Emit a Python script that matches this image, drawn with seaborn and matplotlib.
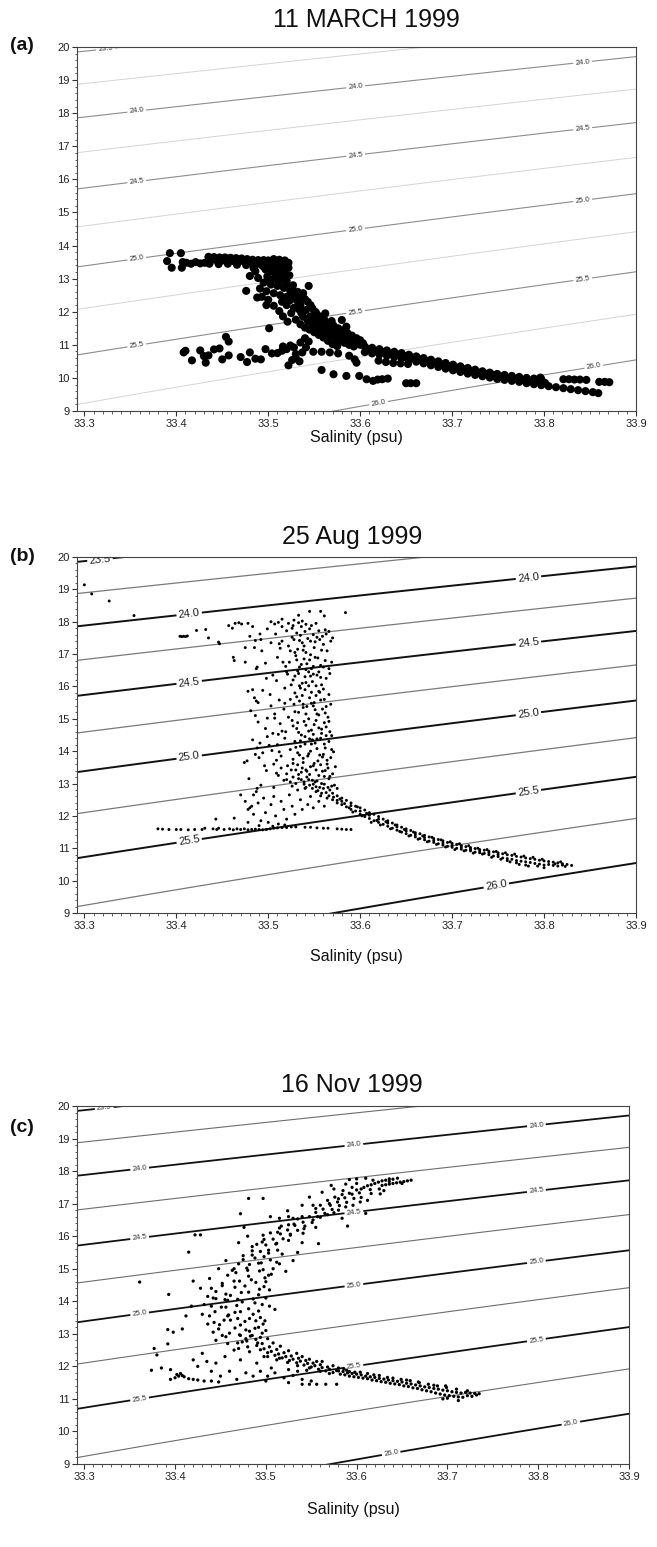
import numpy as np
import pandas as pd
import matplotlib
matplotlib.use("Agg")
import matplotlib.pyplot as plt
import seaborn as sns
from matplotlib.ticker import MultipleLocator, FormatStrFormatter

# ---------------------------------------------------------------- data
titles = ["11 MARCH 1999", "25 Aug 1999", "16 Nov 1999"]
panel_letters = ["(a)", "(b)", "(c)"]
x_ticks = [33.3, 33.4, 33.5, 33.6, 33.7, 33.8, 33.9]
y_ticks = [9, 10, 11, 12, 13, 14, 15, 16, 17, 18, 19, 20]
main_levels = [23.5, 24.0, 24.5, 25.0, 25.5, 26.0]
minor_levels = [23.75, 24.25, 24.75, 25.25, 25.75]

# ---- panel (a) 11 March 1999 : (salinity, temperature)
a_cluster = [(33.390, 13.53), (33.393, 13.77), (33.395, 13.33), (33.405, 13.77), (33.407, 13.50),
             (33.406, 13.33), (33.411, 13.48), (33.416, 13.45), (33.421, 13.50), (33.426, 13.46),
             (33.431, 13.48)]
a_plateau = [(33.435, 13.66), (33.441, 13.65), (33.447, 13.64), (33.453, 13.64), (33.459, 13.63),
             (33.465, 13.62), (33.471, 13.61), (33.477, 13.59), (33.483, 13.57), (33.489, 13.56),
             (33.495, 13.56), (33.438, 13.56), (33.444, 13.55), (33.450, 13.55), (33.456, 13.54),
             (33.462, 13.53), (33.468, 13.52), (33.474, 13.51), (33.480, 13.49), (33.486, 13.48),
             (33.492, 13.47), (33.436, 13.45), (33.446, 13.44), (33.456, 13.45), (33.466, 13.42),
             (33.476, 13.41), (33.486, 13.40), (33.494, 13.38)]
a_cliff = [(33.500, 13.55), (33.506, 13.59), (33.512, 13.57), (33.518, 13.55), (33.522, 13.48),
           (33.502, 13.42), (33.509, 13.44), (33.516, 13.40), (33.522, 13.33), (33.497, 13.28),
           (33.504, 13.22), (33.511, 13.26), (33.518, 13.18), (33.523, 13.10), (33.499, 13.07),
           (33.507, 13.02), (33.514, 13.00), (33.520, 12.93), (33.495, 12.88), (33.503, 12.82),
           (33.510, 12.78), (33.517, 12.72), (33.489, 13.02), (33.486, 13.22), (33.484, 13.32),
           (33.480, 13.08), (33.491, 12.70), (33.498, 12.62), (33.506, 12.56), (33.513, 12.50),
           (33.520, 12.45), (33.493, 12.45), (33.500, 12.36), (33.506, 12.18), (33.498, 12.20),
           (33.476, 12.63), (33.488, 12.43), (33.524, 12.62), (33.527, 12.80)]
a_diag = [(33.528, 12.50), (33.532, 12.32), (33.528, 12.12), (33.535, 12.20), (33.536, 11.96),
          (33.540, 12.38), (33.541, 12.05), (33.544, 12.78), (33.546, 11.86), (33.546, 12.20),
          (33.551, 11.72), (33.551, 12.00), (33.552, 11.97), (33.556, 11.62), (33.556, 11.86),
          (33.561, 11.55), (33.561, 11.76), (33.566, 11.46), (33.566, 11.66), (33.569, 11.72),
          (33.571, 11.40), (33.571, 11.58), (33.576, 11.32), (33.576, 11.50), (33.581, 11.25),
          (33.581, 11.44), (33.586, 11.20), (33.586, 11.36), (33.591, 11.12), (33.591, 11.28),
          (33.596, 11.06), (33.596, 11.20), (33.600, 11.00), (33.600, 11.14), (33.520, 12.20),
          (33.525, 11.96), (33.530, 11.76), (33.535, 11.62), (33.540, 11.52), (33.545, 11.46),
          (33.550, 11.38), (33.555, 11.30), (33.560, 11.22), (33.565, 11.12), (33.570, 11.02),
          (33.575, 10.96), (33.512, 12.02), (33.516, 11.86), (33.521, 11.70), (33.515, 12.30),
          (33.538, 12.56), (33.571, 11.52)]
a_fill = [(33.505, 13.35), (33.513, 13.35), (33.509, 13.12), (33.516, 13.10), (33.502, 12.95),
          (33.511, 12.88), (33.519, 12.82), (33.526, 12.70), (33.532, 12.60), (33.536, 12.45),
          (33.530, 12.45), (33.524, 12.35), (33.533, 12.08), (33.538, 11.85), (33.543, 11.72),
          (33.548, 11.60), (33.553, 11.52), (33.558, 11.42), (33.563, 11.35), (33.568, 11.28),
          (33.573, 11.20), (33.578, 11.12), (33.583, 11.06), (33.588, 11.00), (33.593, 10.95),
          (33.543, 12.30), (33.548, 12.10), (33.553, 11.80), (33.558, 11.70), (33.563, 11.62),
          (33.568, 11.50), (33.573, 11.42), (33.578, 11.36), (33.583, 11.30), (33.588, 11.25),
          (33.593, 11.16), (33.598, 11.10), (33.603, 11.05), (33.580, 11.75), (33.562, 11.95),
          (33.585, 11.55)]
a_tail = [(33.605, 10.95), (33.613, 10.91), (33.621, 10.87), (33.629, 10.83), (33.637, 10.79),
          (33.645, 10.75), (33.653, 10.70), (33.661, 10.65), (33.669, 10.60), (33.677, 10.55),
          (33.685, 10.50), (33.693, 10.45), (33.701, 10.40), (33.709, 10.35), (33.717, 10.30),
          (33.725, 10.25), (33.733, 10.20), (33.741, 10.16), (33.749, 10.12), (33.757, 10.09),
          (33.765, 10.06), (33.773, 10.03), (33.781, 10.00), (33.789, 9.98), (33.797, 9.96),
          (33.609, 10.86), (33.617, 10.82), (33.625, 10.78), (33.633, 10.74), (33.641, 10.70),
          (33.649, 10.66), (33.657, 10.61), (33.665, 10.56), (33.673, 10.51), (33.681, 10.46),
          (33.689, 10.41), (33.697, 10.36), (33.705, 10.31), (33.713, 10.26), (33.721, 10.21),
          (33.729, 10.16), (33.737, 10.12), (33.745, 10.08), (33.753, 10.04), (33.761, 10.00),
          (33.769, 9.97), (33.777, 9.94), (33.785, 9.91), (33.793, 9.88), (33.801, 9.85),
          (33.605, 10.78), (33.613, 10.74), (33.621, 10.71), (33.629, 10.67), (33.637, 10.63),
          (33.645, 10.59), (33.653, 10.54), (33.661, 10.49), (33.669, 10.44), (33.677, 10.38),
          (33.685, 10.33), (33.693, 10.28), (33.701, 10.23), (33.709, 10.18), (33.717, 10.13),
          (33.725, 10.09), (33.733, 10.05), (33.741, 10.01), (33.749, 9.97), (33.757, 9.94),
          (33.765, 9.91), (33.773, 9.88), (33.781, 9.84), (33.789, 9.81), (33.797, 9.78),
          (33.805, 9.75), (33.813, 9.72), (33.821, 9.69), (33.829, 9.66), (33.837, 9.63),
          (33.845, 9.60), (33.853, 9.57), (33.859, 9.54), (33.620, 10.52), (33.628, 10.48),
          (33.636, 10.45), (33.644, 10.44), (33.652, 10.42)]
a_right = [(33.796, 10.01), (33.821, 9.96), (33.827, 9.96), (33.833, 9.95), (33.839, 9.95),
           (33.846, 9.94), (33.860, 9.88), (33.866, 9.88), (33.871, 9.87)]
a_lower = [(33.408, 10.77), (33.410, 10.82), (33.417, 10.53), (33.426, 10.83), (33.430, 10.66),
           (33.432, 10.46), (33.435, 10.68), (33.441, 10.86), (33.447, 10.89), (33.450, 10.56),
           (33.454, 11.24), (33.457, 11.10), (33.457, 10.68), (33.470, 10.63), (33.477, 10.48),
           (33.480, 10.77), (33.486, 10.58), (33.492, 10.56), (33.497, 10.87), (33.501, 11.50),
           (33.504, 10.74), (33.510, 10.75), (33.515, 10.82), (33.520, 10.87), (33.522, 10.38),
           (33.526, 10.54), (33.528, 10.92), (33.530, 10.72), (33.535, 11.07), (33.537, 10.77),
           (33.540, 11.20), (33.544, 11.10), (33.549, 10.79), (33.558, 10.79), (33.567, 10.77),
           (33.576, 10.74), (33.588, 10.67), (33.594, 10.56), (33.596, 10.46), (33.530, 10.60),
           (33.534, 10.50), (33.524, 10.98), (33.516, 10.95), (33.541, 10.92)]
a_bottom = [(33.558, 10.24), (33.571, 10.11), (33.585, 10.06), (33.599, 10.06), (33.607, 9.96),
            (33.614, 9.91), (33.619, 9.95), (33.624, 9.96), (33.630, 9.98), (33.650, 9.84),
            (33.655, 9.84), (33.661, 9.84)]

# ---- panel (b) 25 Aug 1999
b_sparse = [(33.300, 19.14), (33.308, 18.86), (33.327, 18.64), (33.354, 18.19), (33.404, 17.55),
            (33.406, 17.54), (33.408, 17.55), (33.410, 17.54), (33.412, 17.56), (33.422, 17.73),
            (33.432, 17.76), (33.435, 17.50), (33.446, 17.37), (33.447, 17.32), (33.457, 17.88),
            (33.461, 17.80), (33.464, 17.95), (33.468, 17.97), (33.471, 17.93), (33.462, 16.90),
            (33.463, 16.80), (33.533, 18.20), (33.545, 18.32), (33.557, 18.32), (33.561, 18.18),
            (33.584, 18.28), (33.478, 17.95), (33.483, 17.85), (33.480, 17.55), (33.475, 17.20),
            (33.488, 16.60), (33.483, 15.90), (33.477, 13.70)]
b_column = [(33.503, 18.00), (33.507, 17.93), (33.511, 17.98), (33.528, 18.05), (33.533, 17.97),
            (33.537, 18.02), (33.541, 17.92), (33.552, 17.95), (33.562, 17.75), (33.566, 17.70),
            (33.486, 17.42), (33.491, 17.62), (33.515, 17.85), (33.520, 17.72), (33.526, 17.80),
            (33.531, 17.65), (33.536, 17.85), (33.540, 17.70), (33.545, 17.78), (33.549, 17.60),
            (33.555, 17.72), (33.559, 17.55), (33.563, 17.62), (33.570, 17.50), (33.485, 17.20),
            (33.503, 17.35), (33.515, 17.40), (33.522, 17.25), (33.528, 17.45), (33.532, 17.15),
            (33.537, 17.35), (33.541, 17.05), (33.546, 17.40), (33.550, 17.20), (33.556, 17.45),
            (33.560, 17.30), (33.564, 17.10), (33.568, 17.40), (33.493, 17.10), (33.475, 16.75),
            (33.487, 16.55), (33.510, 16.90), (33.523, 16.75), (33.530, 16.95), (33.534, 16.60),
            (33.539, 16.85), (33.542, 16.70), (33.547, 16.55), (33.551, 16.90), (33.557, 16.65),
            (33.562, 16.80), (33.569, 16.75), (33.566, 16.55), (33.498, 16.25), (33.505, 16.35),
            (33.520, 16.45), (33.527, 16.20), (33.533, 16.40), (33.537, 16.10), (33.540, 16.30),
            (33.544, 16.45), (33.548, 16.15), (33.553, 16.35), (33.558, 16.05), (33.563, 16.25),
            (33.567, 16.40), (33.478, 15.85), (33.485, 15.65), (33.487, 15.55), (33.489, 15.50),
            (33.502, 15.75), (33.518, 15.95), (33.524, 15.60), (33.529, 15.80), (33.534, 15.55),
            (33.540, 15.90), (33.545, 15.65), (33.550, 15.50), (33.555, 15.85), (33.561, 15.60),
            (33.566, 15.75), (33.481, 15.25), (33.486, 15.10), (33.503, 15.40), (33.507, 15.15),
            (33.517, 15.30), (33.522, 15.05), (33.528, 15.45), (33.533, 15.20), (33.538, 15.35),
            (33.544, 15.00), (33.549, 15.40), (33.553, 15.15), (33.559, 15.30), (33.565, 15.05),
            (33.568, 15.45), (33.489, 14.90), (33.497, 14.70), (33.505, 14.55), (33.513, 14.85),
            (33.519, 14.60), (33.526, 14.95), (33.531, 14.70), (33.536, 14.50), (33.541, 14.80),
            (33.547, 14.65), (33.552, 14.95), (33.558, 14.55), (33.563, 14.75), (33.567, 14.60),
            (33.483, 14.35), (33.488, 14.10), (33.491, 14.25), (33.499, 14.45), (33.510, 14.20),
            (33.518, 14.40), (33.524, 14.05), (33.529, 14.30), (33.535, 14.15), (33.540, 14.45),
            (33.546, 14.00), (33.551, 14.25), (33.557, 14.40), (33.562, 14.10), (33.566, 14.30),
            (33.569, 14.05), (33.474, 13.65), (33.486, 13.90), (33.490, 13.80), (33.494, 13.95),
            (33.506, 13.60), (33.514, 13.85), (33.521, 13.55), (33.527, 13.75), (33.532, 13.95),
            (33.538, 13.65), (33.543, 13.85), (33.549, 13.55), (33.554, 13.70), (33.560, 13.90),
            (33.564, 13.60), (33.568, 13.80), (33.479, 13.15), (33.498, 13.40), (33.511, 13.25),
            (33.517, 13.10), (33.520, 13.30), (33.524, 13.05), (33.527, 13.20), (33.530, 13.00),
            (33.533, 13.15), (33.536, 13.35), (33.539, 13.05), (33.542, 13.20), (33.545, 12.95),
            (33.548, 13.10), (33.552, 12.90), (33.555, 13.25), (33.558, 13.00), (33.562, 13.40),
            (33.566, 13.15), (33.570, 13.30)]
b_column2 = [(33.508, 17.62), (33.513, 17.18), (33.519, 16.62), (33.525, 16.05), (33.529, 15.22),
             (33.532, 14.88), (33.535, 14.32), (33.538, 13.78), (33.541, 13.42), (33.544, 13.12),
             (33.526, 17.52), (33.529, 17.05), (33.532, 16.48), (33.535, 15.95), (33.538, 15.45),
             (33.541, 15.15), (33.544, 14.62), (33.547, 14.22), (33.550, 13.62), (33.553, 13.08),
             (33.535, 17.58), (33.538, 17.12), (33.541, 16.52), (33.544, 16.02), (33.547, 15.48),
             (33.550, 14.82), (33.553, 14.38), (33.556, 13.88), (33.559, 13.38), (33.561, 12.98),
             (33.543, 17.48), (33.546, 16.98), (33.549, 16.38), (33.552, 15.72), (33.555, 15.12),
             (33.558, 14.68), (33.561, 14.22), (33.564, 13.72), (33.567, 13.22), (33.569, 12.92),
             (33.551, 17.38), (33.554, 16.88), (33.557, 16.28), (33.560, 15.92), (33.563, 15.38),
             (33.566, 14.92), (33.569, 14.48), (33.571, 13.98), (33.573, 13.52), (33.524, 17.10),
             (33.521, 16.38), (33.518, 15.48), (33.515, 14.62), (33.512, 13.98), (33.509, 13.32),
             (33.506, 12.88), (33.497, 16.72), (33.494, 15.88), (33.499, 15.02), (33.501, 14.18),
             (33.496, 13.55), (33.492, 12.95), (33.488, 12.85), (33.484, 12.65), (33.492, 17.45),
             (33.499, 17.78), (33.515, 18.08), (33.522, 17.95), (33.527, 13.62), (33.530, 13.42),
             (33.533, 13.28), (33.536, 13.12), (33.539, 12.98), (33.542, 13.38), (33.545, 13.28),
             (33.548, 12.85), (33.551, 13.05), (33.554, 12.78), (33.557, 12.62), (33.560, 12.85),
             (33.563, 12.72), (33.566, 12.62)]
b_column3 = [(33.527, 17.88), (33.534, 17.42), (33.539, 17.25), (33.547, 17.88), (33.553, 17.52),
             (33.558, 17.12), (33.531, 16.82), (33.536, 16.68), (33.545, 16.82), (33.549, 16.62),
             (33.555, 16.45), (33.560, 16.60), (33.529, 16.32), (33.534, 16.02), (33.541, 16.12),
             (33.546, 16.32), (33.552, 16.02), (33.556, 15.82), (33.531, 15.68), (33.537, 15.72),
             (33.542, 15.38), (33.547, 15.82), (33.551, 15.28), (33.557, 15.58), (33.562, 15.18),
             (33.527, 14.78), (33.533, 14.58), (33.539, 14.92), (33.545, 14.38), (33.549, 14.52),
             (33.555, 14.72), (33.561, 14.88), (33.530, 14.12), (33.534, 13.88), (33.540, 14.22),
             (33.544, 13.92), (33.548, 14.35), (33.553, 14.08), (33.559, 13.82), (33.563, 14.48),
             (33.525, 13.42), (33.532, 13.58), (33.537, 13.48), (33.546, 13.52), (33.552, 13.42),
             (33.557, 13.58), (33.561, 13.22), (33.565, 13.48), (33.541, 12.88), (33.549, 12.98),
             (33.556, 12.88), (33.526, 12.92), (33.520, 13.12), (33.514, 13.48), (33.509, 13.72),
             (33.504, 14.02), (33.511, 14.52), (33.507, 15.02), (33.512, 15.58), (33.509, 16.18),
             (33.516, 16.75), (33.512, 17.32)]
b_lower = [(33.470, 12.65), (33.475, 12.45), (33.478, 12.20), (33.480, 12.25), (33.482, 12.30),
           (33.484, 12.05), (33.487, 12.75), (33.489, 12.40), (33.492, 11.85), (33.495, 12.55),
           (33.497, 12.10), (33.500, 11.80), (33.503, 12.35), (33.506, 12.60), (33.508, 12.00),
           (33.511, 11.75), (33.514, 12.45), (33.517, 12.20), (33.520, 11.90), (33.523, 12.65),
           (33.526, 12.30), (33.529, 12.05), (33.532, 12.80), (33.535, 12.50), (33.537, 12.20),
           (33.540, 12.85), (33.543, 12.35), (33.546, 12.60), (33.549, 12.25), (33.552, 12.75),
           (33.555, 12.45), (33.558, 12.70), (33.561, 12.30), (33.564, 12.55), (33.567, 12.80),
           (33.463, 11.93), (33.478, 11.80), (33.490, 11.70), (33.505, 11.68), (33.518, 11.72),
           (33.443, 11.90)]
b_line = [(33.380, 11.60), (33.385, 11.59), (33.392, 11.58), (33.400, 11.58), (33.405, 11.58),
          (33.413, 11.57), (33.420, 11.58), (33.428, 11.58), (33.431, 11.62), (33.440, 11.60),
          (33.444, 11.58), (33.446, 11.62), (33.452, 11.58), (33.458, 11.60), (33.462, 11.57),
          (33.466, 11.60), (33.470, 11.58), (33.474, 11.60), (33.478, 11.57), (33.482, 11.58),
          (33.486, 11.59), (33.490, 11.58), (33.494, 11.57), (33.498, 11.58), (33.502, 11.60),
          (33.506, 11.62), (33.510, 11.63), (33.515, 11.64), (33.520, 11.64), (33.525, 11.66),
          (33.530, 11.66), (33.540, 11.65), (33.546, 11.65), (33.553, 11.63), (33.560, 11.62),
          (33.565, 11.62), (33.575, 11.60), (33.580, 11.59), (33.585, 11.58), (33.590, 11.58)]
b_tail = [(33.570, 12.70), (33.570, 12.50), (33.575, 12.62), (33.575, 12.40), (33.580, 12.55),
          (33.580, 12.35), (33.580, 12.45), (33.585, 12.48), (33.585, 12.28), (33.590, 12.40),
          (33.590, 12.20), (33.590, 12.32), (33.595, 12.30), (33.595, 12.15), (33.600, 12.25),
          (33.600, 12.05), (33.600, 12.15), (33.605, 12.18), (33.605, 11.98), (33.610, 12.10),
          (33.610, 11.92), (33.610, 12.02), (33.615, 12.05), (33.615, 11.85), (33.620, 11.98),
          (33.620, 11.80), (33.620, 11.90), (33.625, 11.90), (33.625, 11.74), (33.630, 11.85),
          (33.630, 11.68), (33.630, 11.78), (33.635, 11.78), (33.635, 11.62), (33.640, 11.72),
          (33.640, 11.56), (33.640, 11.66), (33.645, 11.65), (33.645, 11.50), (33.650, 11.60),
          (33.650, 11.45), (33.650, 11.53), (33.655, 11.55), (33.655, 11.40), (33.660, 11.48),
          (33.660, 11.35), (33.660, 11.42), (33.665, 11.45), (33.665, 11.30), (33.670, 11.40),
          (33.670, 11.26), (33.670, 11.33), (33.675, 11.35), (33.675, 11.22), (33.680, 11.30),
          (33.680, 11.18), (33.680, 11.24), (33.685, 11.27), (33.685, 11.14), (33.690, 11.23),
          (33.690, 11.10), (33.690, 11.16), (33.695, 11.18), (33.695, 11.06), (33.700, 11.15),
          (33.700, 11.03), (33.700, 11.09), (33.705, 11.12), (33.705, 11.00), (33.710, 11.08),
          (33.710, 10.97), (33.710, 11.03), (33.715, 11.05), (33.715, 10.94), (33.720, 11.02),
          (33.720, 10.92), (33.720, 10.97), (33.725, 10.99), (33.725, 10.88), (33.730, 10.96),
          (33.730, 10.86), (33.730, 10.91), (33.735, 10.94), (33.735, 10.84), (33.740, 10.91),
          (33.740, 10.80), (33.740, 10.86), (33.745, 10.89), (33.745, 10.76), (33.750, 10.86),
          (33.750, 10.74), (33.750, 10.80), (33.755, 10.83), (33.755, 10.70), (33.760, 10.80),
          (33.760, 10.68), (33.760, 10.62), (33.765, 10.78), (33.765, 10.66), (33.770, 10.75),
          (33.770, 10.62), (33.770, 10.55), (33.775, 10.73), (33.775, 10.60), (33.780, 10.70),
          (33.780, 10.58), (33.780, 10.48), (33.785, 10.68), (33.785, 10.56), (33.790, 10.66),
          (33.790, 10.53), (33.795, 10.63), (33.795, 10.51), (33.800, 10.61), (33.800, 10.48),
          (33.800, 10.40), (33.805, 10.59), (33.805, 10.50), (33.810, 10.57), (33.810, 10.47),
          (33.815, 10.55), (33.815, 10.45), (33.820, 10.52), (33.820, 10.48), (33.825, 10.50),
          (33.830, 10.47), (33.575, 12.85), (33.565, 12.88), (33.572, 12.95)]
b_tail2 = [(33.571, 12.58), (33.575, 12.48), (33.578, 12.52), (33.583, 12.38), (33.588, 12.25),
           (33.592, 12.12), (33.597, 12.28), (33.602, 12.00), (33.607, 12.08), (33.612, 11.80),
           (33.618, 11.86), (33.622, 11.72), (33.628, 11.82), (33.633, 11.60), (33.638, 11.72),
           (33.643, 11.52), (33.648, 11.58), (33.653, 11.38), (33.658, 11.50), (33.663, 11.28),
           (33.668, 11.38), (33.673, 11.20), (33.678, 11.34), (33.683, 11.12), (33.688, 11.26),
           (33.693, 11.04), (33.698, 11.20), (33.703, 10.96), (33.708, 11.14), (33.713, 10.92),
           (33.718, 11.08), (33.723, 10.85), (33.728, 11.00), (33.733, 10.82), (33.738, 10.96),
           (33.743, 10.72), (33.748, 10.90), (33.753, 10.66), (33.758, 10.86), (33.763, 10.58),
           (33.768, 10.82), (33.773, 10.50), (33.778, 10.76), (33.783, 10.45), (33.788, 10.72),
           (33.793, 10.45), (33.798, 10.66), (33.812, 10.52), (33.818, 10.58), (33.823, 10.44)]

# ---- panel (c) 16 Nov 1999
c_top = [(33.660, 17.72), (33.656, 17.70), (33.652, 17.68), (33.648, 17.66), (33.644, 17.64),
         (33.640, 17.62), (33.636, 17.60), (33.632, 17.58), (33.628, 17.56), (33.645, 17.78),
         (33.640, 17.75), (33.636, 17.76), (33.632, 17.72), (33.628, 17.70), (33.624, 17.66),
         (33.620, 17.62), (33.616, 17.58), (33.612, 17.55), (33.608, 17.50), (33.625, 17.45),
         (33.615, 17.43), (33.616, 17.31), (33.603, 17.33), (33.605, 17.19), (33.595, 17.29),
         (33.597, 17.16), (33.587, 17.18), (33.589, 17.04), (33.579, 17.05), (33.581, 16.94),
         (33.571, 16.95), (33.573, 16.82), (33.563, 16.83), (33.565, 16.70), (33.555, 16.73),
         (33.557, 16.60), (33.612, 17.10), (33.604, 17.05), (33.596, 16.95), (33.588, 16.90),
         (33.580, 16.80), (33.575, 16.72), (33.568, 16.66), (33.560, 16.58), (33.552, 16.50),
         (33.600, 17.42), (33.592, 17.32), (33.584, 17.28), (33.576, 17.20), (33.568, 17.10),
         (33.630, 17.40), (33.626, 17.30), (33.572, 17.56), (33.592, 17.74), (33.600, 17.76),
         (33.610, 17.78), (33.584, 16.55), (33.590, 16.31), (33.610, 16.70)]
c_mid = [(33.551, 16.42), (33.541, 16.43), (33.543, 16.31), (33.532, 16.33), (33.535, 16.18),
         (33.524, 16.19), (33.527, 16.06), (33.516, 16.07), (33.519, 15.92), (33.508, 15.91),
         (33.511, 15.76), (33.500, 15.73), (33.503, 15.57), (33.494, 15.53), (33.498, 15.37),
         (33.488, 15.33), (33.492, 15.17), (33.482, 15.13), (33.555, 16.27), (33.542, 16.23),
         (33.541, 16.09), (33.527, 16.03), (33.525, 15.87), (33.512, 15.78), (33.513, 15.57),
         (33.503, 15.48), (33.505, 15.27), (33.495, 15.18), (33.497, 14.97), (33.535, 16.53),
         (33.531, 16.37), (33.517, 16.31), (33.513, 16.12), (33.497, 16.03), (33.496, 15.82),
         (33.485, 15.68), (33.485, 15.42), (33.475, 15.28), (33.479, 15.02), (33.558, 15.77),
         (33.522, 14.92), (33.535, 15.50), (33.540, 15.80), (33.530, 15.25), (33.476, 16.27),
         (33.472, 16.69), (33.481, 17.16), (33.497, 17.16), (33.524, 16.78), (33.515, 16.55),
         (33.505, 16.60), (33.480, 16.00), (33.470, 15.80)]
c_cloud = [(33.493, 14.93), (33.481, 14.77), (33.484, 14.66), (33.471, 14.62), (33.477, 14.47),
           (33.466, 14.43), (33.473, 14.27), (33.461, 14.18), (33.469, 14.06), (33.458, 14.03),
           (33.468, 13.87), (33.456, 13.82), (33.466, 13.66), (33.459, 13.58), (33.469, 13.47),
           (33.461, 13.42), (33.472, 13.27), (33.466, 13.18), (33.478, 13.12), (33.471, 12.97),
           (33.483, 12.93), (33.479, 12.78), (33.491, 12.72), (33.499, 14.72), (33.489, 14.58),
           (33.493, 14.37), (33.481, 14.28), (33.486, 14.07), (33.474, 13.98), (33.481, 13.77),
           (33.472, 13.68), (33.482, 13.47), (33.477, 13.38), (33.488, 13.17), (33.482, 13.08),
           (33.494, 12.89), (33.489, 12.83), (33.467, 14.88), (33.465, 14.62), (33.452, 14.48),
           (33.456, 14.22), (33.445, 14.08), (33.451, 13.82), (33.444, 13.68), (33.454, 13.42),
           (33.449, 13.28), (33.460, 13.02), (33.456, 12.91), (33.469, 12.72), (33.500, 14.60),
           (33.504, 14.35), (33.500, 14.10), (33.496, 13.90), (33.492, 13.70), (33.494, 13.50),
           (33.497, 13.30), (33.500, 13.10), (33.485, 12.95), (33.478, 12.85), (33.472, 12.95),
           (33.440, 14.40), (33.436, 14.15), (33.432, 13.90), (33.430, 13.60), (33.436, 13.30),
           (33.442, 13.05), (33.445, 12.80), (33.438, 14.70), (33.448, 15.00), (33.456, 15.25),
           (33.463, 14.95), (33.506, 14.83), (33.504, 13.85), (33.499, 13.40), (33.510, 13.75),
           (33.393, 14.21), (33.361, 14.59), (33.415, 15.51), (33.422, 16.04), (33.428, 16.04),
           (33.420, 14.62), (33.428, 14.40), (33.418, 13.85), (33.412, 13.55), (33.408, 13.15)]
c_extra = [(33.600, 17.62), (33.605, 17.45), (33.595, 17.50), (33.585, 17.40), (33.580, 17.15),
           (33.570, 17.00), (33.560, 16.95), (33.555, 16.85), (33.548, 16.60), (33.540, 16.60),
           (33.530, 16.55), (33.525, 16.35), (33.515, 16.25), (33.505, 16.10), (33.498, 15.90),
           (33.490, 15.75), (33.485, 15.55), (33.475, 15.40), (33.470, 15.15), (33.465, 15.00),
           (33.458, 14.80), (33.452, 14.55), (33.445, 14.30), (33.442, 14.10), (33.440, 13.85),
           (33.438, 13.55), (33.443, 13.35), (33.448, 13.15), (33.452, 12.95), (33.458, 12.70),
           (33.515, 15.15), (33.518, 15.45), (33.512, 15.20), (33.508, 15.00), (33.503, 14.80),
           (33.498, 14.45), (33.492, 14.20), (33.488, 13.95), (33.486, 13.60), (33.489, 13.40),
           (33.492, 13.20), (33.496, 13.02), (33.502, 12.85), (33.508, 12.72), (33.516, 12.62),
           (33.525, 12.48), (33.534, 12.40), (33.540, 12.30), (33.548, 12.22), (33.556, 12.15),
           (33.562, 12.15), (33.574, 12.02), (33.580, 11.95), (33.586, 11.92), (33.592, 11.84),
           (33.598, 11.82), (33.612, 11.78), (33.625, 11.72), (33.640, 11.64), (33.655, 11.58),
           (33.668, 11.52), (33.685, 11.42), (33.698, 11.40), (33.710, 11.30), (33.722, 11.25),
           (33.540, 16.95), (33.548, 17.20), (33.562, 17.35), (33.575, 17.45), (33.588, 17.60),
           (33.618, 17.72), (33.636, 17.68), (33.650, 17.62), (33.552, 16.95), (33.525, 16.60),
           (33.480, 14.95), (33.455, 14.05), (33.458, 13.55), (33.474, 12.75), (33.470, 12.55),
           (33.480, 12.60)]
c_low = [(33.374, 11.88), (33.377, 12.55), (33.380, 12.35), (33.392, 12.69), (33.392, 13.13),
         (33.398, 13.05), (33.385, 11.95), (33.395, 11.90), (33.400, 11.65), (33.402, 11.75),
         (33.404, 11.70), (33.406, 11.78), (33.408, 11.72), (33.410, 11.68), (33.415, 11.62),
         (33.420, 11.60), (33.425, 11.58), (33.432, 11.55), (33.440, 11.55), (33.448, 11.52),
         (33.395, 11.60), (33.420, 12.20), (33.425, 12.00), (33.430, 12.40), (33.435, 12.15),
         (33.440, 11.85), (33.445, 12.10), (33.450, 11.70), (33.455, 12.30), (33.460, 11.85),
         (33.465, 12.50), (33.468, 11.60), (33.472, 12.20), (33.478, 11.80), (33.482, 12.45),
         (33.486, 11.70), (33.490, 12.10), (33.494, 11.85), (33.498, 12.30), (33.502, 11.70),
         (33.506, 11.95), (33.510, 11.80), (33.515, 12.25), (33.520, 11.65), (33.525, 11.90),
         (33.530, 11.72), (33.535, 11.85), (33.540, 11.60), (33.545, 11.88), (33.550, 11.55),
         (33.540, 11.45), (33.548, 11.45), (33.556, 11.45), (33.566, 11.45), (33.578, 11.45),
         (33.525, 11.50), (33.500, 11.55)]
c_diag = [(33.490, 12.64), (33.494, 12.51), (33.498, 12.54), (33.502, 12.42), (33.506, 12.46),
          (33.510, 12.34), (33.514, 12.38), (33.518, 12.26), (33.522, 12.30), (33.526, 12.18),
          (33.530, 12.22), (33.534, 12.11), (33.538, 12.16), (33.542, 12.04), (33.546, 12.09),
          (33.550, 11.98), (33.554, 12.02), (33.558, 11.91), (33.562, 11.96), (33.566, 11.86),
          (33.570, 11.91), (33.574, 11.81), (33.578, 11.87), (33.496, 12.70), (33.504, 12.60),
          (33.512, 12.52), (33.520, 12.42), (33.528, 12.32), (33.536, 12.25), (33.544, 12.18),
          (33.552, 12.10), (33.560, 12.05), (33.568, 11.98), (33.502, 12.30), (33.512, 12.20),
          (33.524, 12.12), (33.535, 12.02), (33.548, 11.95), (33.560, 11.85), (33.570, 11.78)]
c_tail = [(33.580, 11.86), (33.582, 11.76), (33.585, 11.84), (33.587, 11.74), (33.590, 11.80),
          (33.592, 11.70), (33.589, 11.88), (33.595, 11.78), (33.597, 11.68), (33.600, 11.76),
          (33.602, 11.66), (33.605, 11.74), (33.607, 11.64), (33.604, 11.82), (33.610, 11.70),
          (33.612, 11.62), (33.615, 11.68), (33.617, 11.58), (33.620, 11.66), (33.622, 11.56),
          (33.619, 11.74), (33.625, 11.63), (33.627, 11.53), (33.630, 11.61), (33.632, 11.51),
          (33.635, 11.58), (33.637, 11.48), (33.634, 11.66), (33.640, 11.56), (33.642, 11.46),
          (33.645, 11.54), (33.647, 11.44), (33.650, 11.52), (33.652, 11.40), (33.649, 11.60),
          (33.655, 11.48), (33.657, 11.38), (33.660, 11.46), (33.662, 11.34), (33.659, 11.56),
          (33.665, 11.43), (33.667, 11.32), (33.670, 11.40), (33.672, 11.28), (33.669, 11.50),
          (33.675, 11.37), (33.677, 11.25), (33.680, 11.35), (33.682, 11.22), (33.679, 11.45),
          (33.685, 11.32), (33.687, 11.18), (33.690, 11.30), (33.692, 11.15), (33.689, 11.40),
          (33.695, 11.27), (33.697, 11.12), (33.700, 11.25), (33.702, 11.10), (33.699, 11.35),
          (33.705, 11.22), (33.707, 11.08), (33.710, 11.20), (33.712, 11.06), (33.715, 11.18),
          (33.717, 11.05), (33.720, 11.20), (33.722, 11.10), (33.725, 11.18), (33.727, 11.08),
          (33.730, 11.17), (33.732, 11.12), (33.735, 11.16), (33.712, 10.95), (33.695, 11.00),
          (33.700, 11.02)]

# contour label anchor salinities (labels sit on the isopycnal at these S)
a_label_sal = [33.357, 33.595, 33.842]
b_label_sal = [33.414, 33.783]
c_label_sal = [33.361, 33.597, 33.798]
a_label_sal_26 = [33.620, 33.854]
b_label_sal_26 = [33.748]
c_label_sal_26 = [33.638, 33.836]
label_sal_235 = [33.323, 33.317, 33.322]


# ---------------------------------------------------------------- helpers
def sigma_t(S, T):
    """UNESCO (1981) density at atmospheric pressure, minus 1000."""
    rho_w = (999.842594 + 6.793952e-2 * T - 9.095290e-3 * T ** 2 + 1.001685e-4 * T ** 3
             - 1.120083e-6 * T ** 4 + 6.536332e-9 * T ** 5)
    A = 0.824493 - 4.0899e-3 * T + 7.6438e-5 * T ** 2 - 8.2467e-7 * T ** 3 + 5.3875e-9 * T ** 4
    B = -5.72466e-3 + 1.0227e-4 * T - 1.6546e-6 * T ** 2
    C = 4.8314e-4
    return rho_w + A * S + B * S ** 1.5 + C * S ** 2 - 1000.0


def temp_on_isopycnal(S, level):
    tg = np.linspace(0.0, 30.0, 3001)
    sg = sigma_t(S, tg)
    return float(np.interp(level, sg[::-1], tg[::-1]))


def frame(groups):
    pts = [p for g in groups for p in g]
    return pd.DataFrame(pts, columns=["salinity", "temperature"])


# ---------------------------------------------------------------- figure
sns.set_theme(style="ticks")
plt.rcParams["font.family"] = ["Liberation Sans", "DejaVu Sans"]

W, H = 657, 1547
fig = plt.figure(figsize=(W / 100, H / 100), dpi=100)
fig.patch.set_facecolor("white")


def add_ax(left, top, right, bottom):
    return fig.add_axes([left / W, 1 - bottom / H, (right - left) / W, (bottom - top) / H])


panels = [
    dict(box=(77, 47, 636, 411), df=frame([a_cluster, a_plateau, a_cliff, a_diag, a_fill, a_tail,
                                           a_right, a_lower, a_bottom]),
         size=34, main_c="#8c8c8c", main_lw=0.8, minor_c="#d4d4d4", minor_lw=0.7,
         lab_fs=5.5, lab_c="#333333", lsal=a_label_sal, lsal26=a_label_sal_26,
         title_xy=(366, 20), letter_xy=(22, 45), xpad=1.0),
    dict(box=(77, 557, 636, 913), df=frame([b_sparse, b_column, b_column2, b_column3, b_lower,
                                            b_line, b_tail, b_tail2]),
         size=4.5, main_c="#111111", main_lw=1.4, minor_c="#7a7a7a", minor_lw=0.9,
         lab_fs=8, lab_c="#222222", lsal=b_label_sal, lsal26=b_label_sal_26,
         title_xy=(352, 537), letter_xy=(22, 556), xpad=13),
    dict(box=(77, 1106, 629, 1464), df=frame([c_top, c_mid, c_cloud, c_extra, c_low, c_diag,
                                              c_tail]),
         size=5.5, main_c="#111111", main_lw=1.3, minor_c="#6e6e6e", minor_lw=0.8,
         lab_fs=5.5, lab_c="#333333", lsal=c_label_sal, lsal26=c_label_sal_26,
         title_xy=(352, 1085), letter_xy=(22, 1127), xpad=15),
]

sal_grid = np.linspace(33.25, 33.95, 400)
temp_grid = np.linspace(8.5, 20.5, 400)
SS, TT = np.meshgrid(sal_grid, temp_grid)
SIG = sigma_t(SS, TT)

for i, p in enumerate(panels):
    ax = add_ax(*p["box"])
    ax.set_facecolor("white")
    ax.set_xlim(33.292, 33.9)
    ax.set_ylim(9, 20)

    ax.contour(SS, TT, SIG, levels=minor_levels, colors=p["minor_c"],
               linewidths=p["minor_lw"], zorder=1)
    cs = ax.contour(SS, TT, SIG, levels=main_levels, colors=p["main_c"],
                    linewidths=p["main_lw"], zorder=2)
    positions = [(label_sal_235[i], temp_on_isopycnal(label_sal_235[i], 23.5))]
    for lev in [24.0, 24.5, 25.0, 25.5]:
        for s in p["lsal"]:
            positions.append((s, temp_on_isopycnal(s, lev)))
    for s in p["lsal26"]:
        positions.append((s, temp_on_isopycnal(s, 26.0)))
    ax.clabel(cs, fmt="%.1f", fontsize=p["lab_fs"], colors=p["lab_c"],
              manual=positions, inline=True, inline_spacing=2)

    sns.scatterplot(data=p["df"], x="salinity", y="temperature", ax=ax, color="black",
                    s=p["size"], linewidth=0, edgecolor="none", legend=False, zorder=3)

    ax.set_xticks(x_ticks)
    ax.set_yticks(y_ticks)
    ax.xaxis.set_major_formatter(FormatStrFormatter("%.1f"))
    ax.xaxis.set_minor_locator(MultipleLocator(0.01))
    ax.yaxis.set_minor_locator(MultipleLocator(0.2))
    ax.tick_params(which="major", direction="out", length=3.5, width=0.8,
                   labelsize=8, pad=2, colors="#333333", labelcolor="#222222")
    ax.tick_params(which="minor", direction="out", length=1.8, width=0.6, colors="#444444")
    for side in ["left", "bottom", "top", "right"]:
        ax.spines[side].set_visible(True)
        ax.spines[side].set_linewidth(0.8)
        ax.spines[side].set_color("#444444")
    ax.set_xlabel("Salinity (psu)", fontsize=11.5, labelpad=p["xpad"], color="#111111")
    ax.set_ylabel("")

    tx, ty = p["title_xy"]
    fig.text(tx / W, 1 - ty / H, titles[i], fontsize=18, ha="center", va="center",
             color="#111111")
    lx, ly = p["letter_xy"]
    fig.text(lx / W, 1 - ly / H, panel_letters[i], fontsize=14, fontweight="bold",
             ha="center", va="center", color="#111111")

fig.savefig("out.png", dpi=100, facecolor="white")
